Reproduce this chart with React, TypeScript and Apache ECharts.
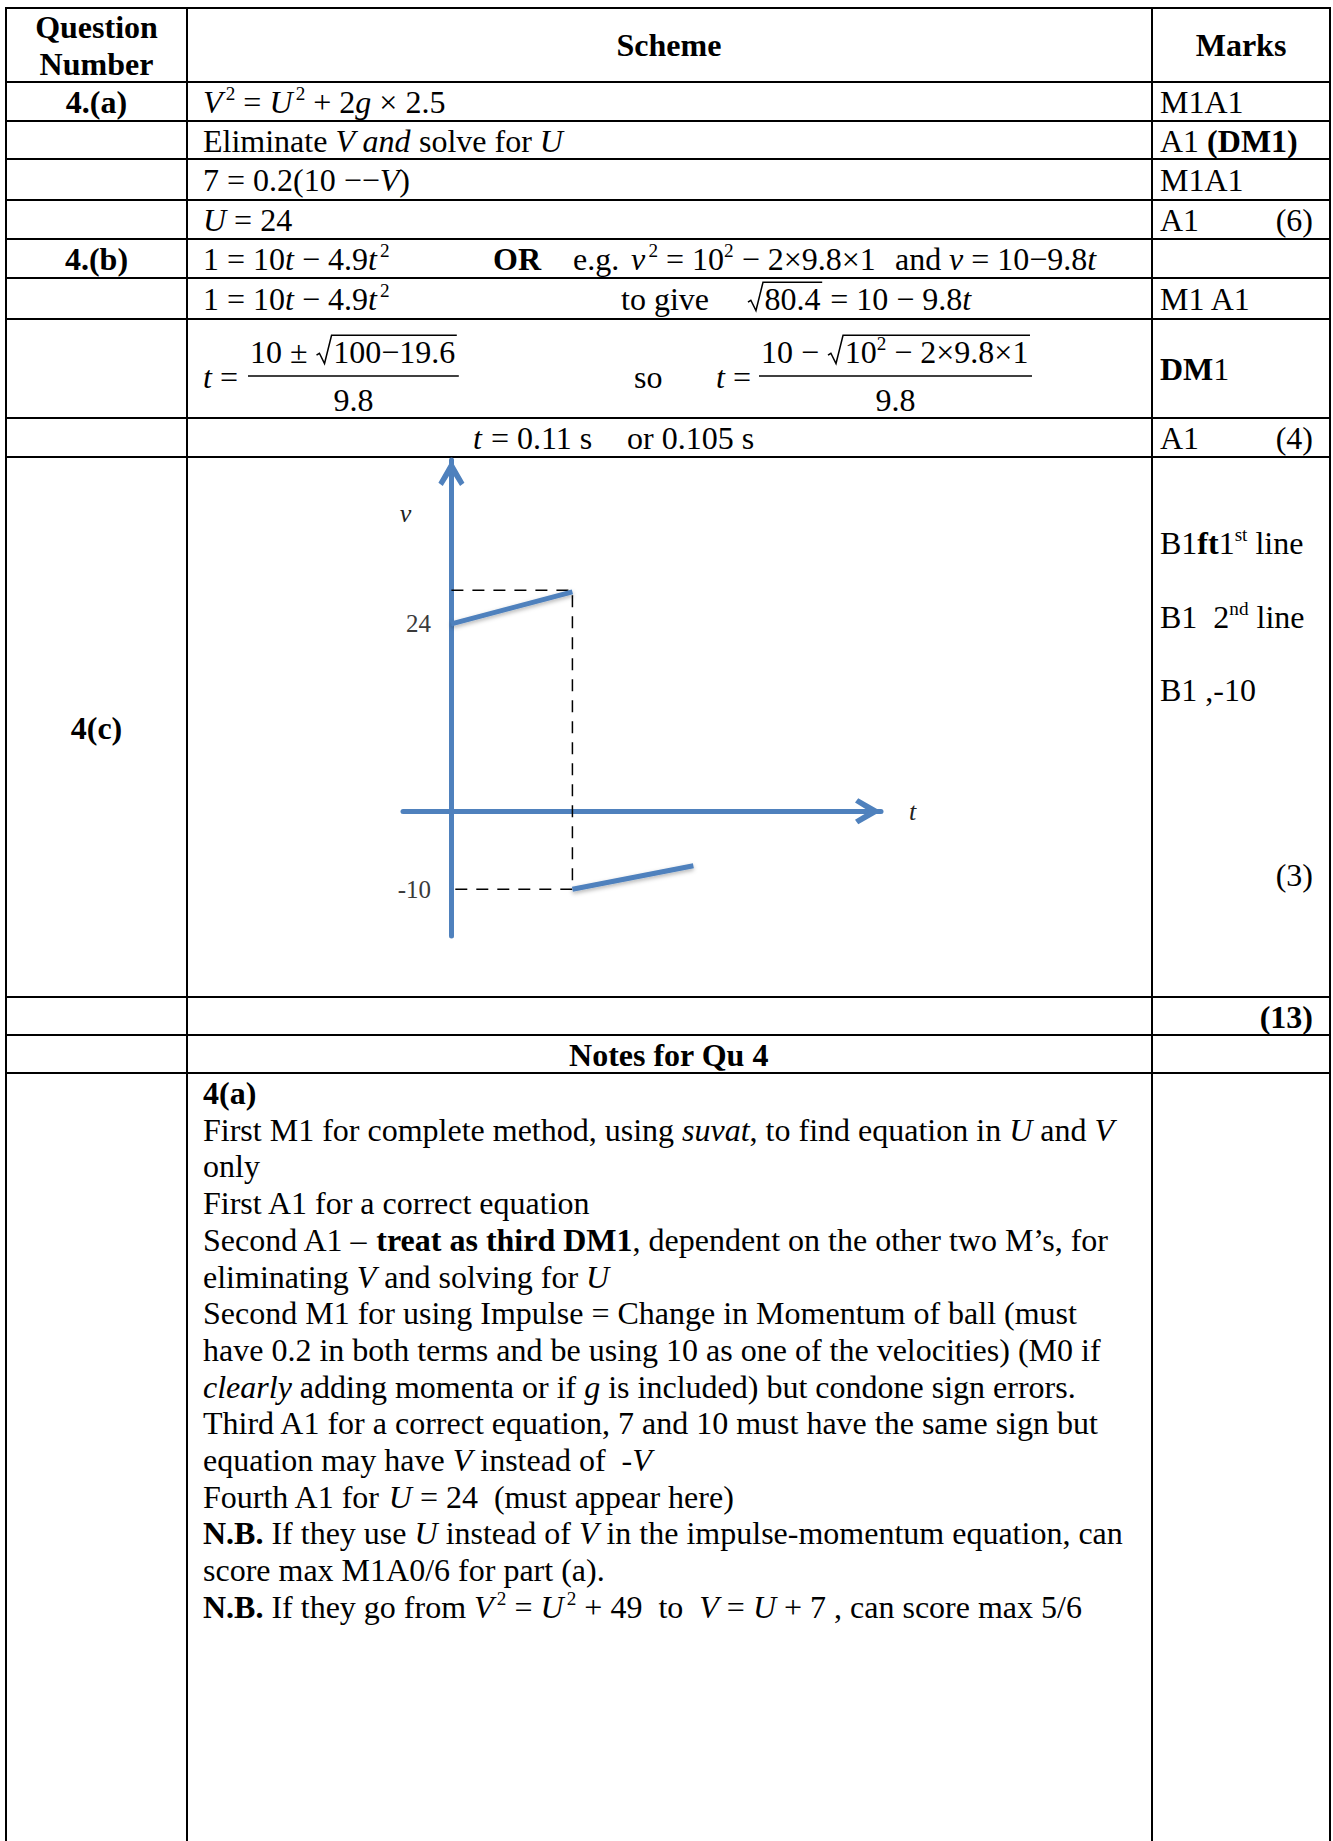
import { useEffect, useRef } from 'react';
import * as echarts from 'echarts';

// ---------- v–t sketch data ----------
const tFirstFlight = [0, 1];
const vFirstFlight = [24, 28.1];
const tSecondFlight = [1, 2];
const vSecondFlight = [-10, -7];
const guideT = [0, 1, 1, 0];
const guideV = [28.3, 28.3, -10, -10];
const vTickLabels = [24, -10];
const tRange = [-0.4, 3.55];
const vRange = [-16, 45];

const BLUE = '#4F81BD';
const FONT = '"Liberation Serif", "Times New Roman", serif';
const FS = 32;

type Run = { t?: string; i?: boolean; b?: boolean; sup?: boolean; sqrt?: Run[] };
const n = (t: string): Run => ({ t });
const it = (t: string): Run => ({ t, i: true });
const bd = (t: string): Run => ({ t, b: true });
const sp = (t: string): Run => ({ t, sup: true });
const sq = (...r: Run[]): Run => ({ sqrt: r });

// ---------- table layout ----------
const hLines = [8, 82, 121, 159, 200, 239, 278, 319, 418, 457, 997, 1035, 1073];
const vLines = [6, 187, 1152, 1330];
const XS = 203; // scheme column text start
const XM = 1160; // marks column text start
const XMR = 1313; // marks column right edge
const C1 = 96.5; // question column centre
const C2 = 669; // scheme column centre
const C3 = 1241; // marks column centre

const eqT = [n('1 = 10'), it('t'), n(' − 4.9'), it('t'), sp('2')];

type Item = { x: number; y: number; a: 'l' | 'c' | 'r'; r: Run[] };
const items: Item[] = [
  { x: C1, y: 27, a: 'c', r: [bd('Question')] },
  { x: C1, y: 64, a: 'c', r: [bd('Number')] },
  { x: C2, y: 45, a: 'c', r: [bd('Scheme')] },
  { x: C3, y: 45, a: 'c', r: [bd('Marks')] },
  // 4(a)
  { x: C1, y: 102, a: 'c', r: [bd('4.(a)')] },
  { x: XS, y: 102, a: 'l', r: [it('V'), sp('2'), n(' = '), it('U'), sp('2'), n(' + 2'), it('g'), n(' × 2.5')] },
  { x: XM, y: 102, a: 'l', r: [n('M1A1')] },
  { x: XS, y: 141, a: 'l', r: [n('Eliminate '), it('V and'), n(' solve for '), it('U')] },
  { x: XM, y: 141, a: 'l', r: [n('A1 '), bd('(DM1)')] },
  { x: XS, y: 180, a: 'l', r: [n('7 = 0.2(10 −−'), it('V'), n(')')] },
  { x: XM, y: 180, a: 'l', r: [n('M1A1')] },
  { x: XS, y: 220, a: 'l', r: [it('U'), n(' = 24')] },
  { x: XM, y: 220, a: 'l', r: [n('A1')] },
  { x: XMR, y: 220, a: 'r', r: [n('(6)')] },
  // 4(b)
  { x: C1, y: 259, a: 'c', r: [bd('4.(b)')] },
  { x: XS, y: 259, a: 'l', r: eqT },
  { x: 493, y: 259, a: 'l', r: [bd('OR')] },
  { x: 573, y: 259, a: 'l', r: [n('e.g.')] },
  { x: 631, y: 259, a: 'l', r: [it('v'), sp('2'), n(' = 10'), sp('2'), n(' − 2×9.8×1')] },
  { x: 895, y: 259, a: 'l', r: [n('and')] },
  { x: 949, y: 259, a: 'l', r: [it('v'), n(' = 10−9.8'), it('t')] },
  { x: XS, y: 299, a: 'l', r: eqT },
  { x: 621, y: 299, a: 'l', r: [n('to give')] },
  { x: 747, y: 299, a: 'l', r: [sq(n('80.4')), n(' = 10 − 9.8'), it('t')] },
  { x: XM, y: 299, a: 'l', r: [n('M1 A1')] },
  { x: XS, y: 377, a: 'l', r: [it('t'), n(' =')] },
  { x: 634, y: 377, a: 'l', r: [n('so')] },
  { x: 716, y: 377, a: 'l', r: [it('t'), n(' =')] },
  { x: XM, y: 369, a: 'l', r: [bd('DM'), n('1')] },
  { x: 473, y: 438, a: 'l', r: [it('t')] },
  { x: 491, y: 438, a: 'l', r: [n('= 0.11 s')] },
  { x: 627, y: 438, a: 'l', r: [n('or 0.105 s')] },
  { x: XM, y: 438, a: 'l', r: [n('A1')] },
  { x: XMR, y: 438, a: 'r', r: [n('(4)')] },
  // 4(c)
  { x: C1, y: 728, a: 'c', r: [bd('4(c)')] },
  { x: XM, y: 543, a: 'l', r: [n('B1'), bd('ft'), n('1'), sp('st'), n(' line')] },
  { x: XM, y: 617, a: 'l', r: [n('B1  2'), sp('nd'), n(' line')] },
  { x: XM, y: 690, a: 'l', r: [n('B1 ,-10')] },
  { x: XMR, y: 875, a: 'r', r: [n('(3)')] },
  { x: XMR, y: 1017, a: 'r', r: [bd('(13)')] },
  { x: C2, y: 1055, a: 'c', r: [bd('Notes for Qu 4')] },
];

const fractions = [
  { left: 250, num: [n('10 ± '), sq(n('100−19.6'))], den: [n('9.8')] },
  { left: 761, num: [n('10 − '), sq(n('10'), sp('2'), n(' − 2×9.8×1'))], den: [n('9.8')] },
];
const FR_NUM = 352;
const FR_BAR = 376;
const FR_DEN = 400;

const notes: Run[][] = [
  [bd('4(a)')],
  [n('First M1 for complete method, using '), it('suvat'), n(', to find equation in '), it('U'), n(' and '), it('V')],
  [n('only')],
  [n('First A1 for a correct equation')],
  [n('Second A1 – '), bd('treat as third DM1'), n(', dependent on the other two M’s, for')],
  [n('eliminating '), it('V'), n(' and solving for '), it('U')],
  [n('Second M1 for using Impulse = Change in Momentum of ball (must')],
  [n('have 0.2 in both terms and be using 10 as one of the velocities) (M0 if')],
  [it('clearly'), n(' adding momenta or if '), it('g'), n(' is included) but condone sign errors.')],
  [n('Third A1 for a correct equation, 7 and 10 must have the same sign but')],
  [n('equation may have '), it('V'), n(' instead of  -'), it('V')],
  [n('Fourth A1 for '), it('U'), n(' = 24  (must appear here)')],
  [bd('N.B.'), n(' If they use '), it('U'), n(' instead of '), it('V'), n(' in the impulse-momentum equation, can')],
  [n('score max M1A0/6 for part (a).')],
  [bd('N.B.'), n(' If they go from '), it('V'), sp('2'), n(' = '), it('U'), sp('2'), n(' + 49  to  '), it('V'), n(' = '), it('U'), n(' + 7 , can score max 5/6')],
];
const NOTES_Y0 = 1093;
const NOTES_DY = 36.7;

let ctx: CanvasRenderingContext2D | null = null;
function fontOf(i?: boolean, b?: boolean, size = FS) {
  return `${i ? 'italic ' : ''}${b ? 'bold ' : ''}${size}px ${FONT}`;
}
function tw(t: string, i?: boolean, b?: boolean, size = FS) {
  if (!ctx) ctx = document.createElement('canvas').getContext('2d');
  ctx!.font = fontOf(i, b, size);
  return ctx!.measureText(t).width;
}
// italic correction before a superscript that follows an italic letter
function supGap(prev: Run | undefined, r: Run, size: number) {
  return r.sup && prev && prev.i && !prev.sup ? size * 0.1 : 0;
}
function runsWidth(runs: Run[], size = FS): number {
  let w = 0;
  runs.forEach((r, k) => {
    if (r.sqrt) w += size * 0.55 + runsWidth(r.sqrt, size) + size * 0.05;
    else w += supGap(runs[k - 1], r, size) + tw(r.t!, r.i, r.b, r.sup ? size * 0.6 : size);
  });
  return w;
}
function drawPlain(text: string, x: number, y: number, i: boolean | undefined, b: boolean | undefined, size: number, out: any[]) {
  const re = /\S+(?: \S+)*/g;
  let m: RegExpExecArray | null;
  while ((m = re.exec(text))) {
    const px = x + tw(text.slice(0, m.index), i, b, size);
    out.push({
      type: 'text',
      x: px,
      y,
      style: {
        text: m[0],
        fontFamily: FONT,
        fontSize: size,
        fontStyle: i ? 'italic' : 'normal',
        fontWeight: b ? 'bold' : 'normal',
        fill: '#000',
        align: 'left',
        verticalAlign: 'middle',
      },
    });
  }
  return tw(text, i, b, size);
}
function drawRuns(runs: Run[], x: number, y: number, out: any[], size = FS): number {
  let cx = x;
  runs.forEach((r, k) => {
    if (r.sqrt) {
      const top = y - 0.52 * size;
      const base = y + 0.36 * size;
      const innerW = runsWidth(r.sqrt, size);
      const x0 = cx + size * 0.03;
      const xs = cx + size * 0.55;
      out.push({
        type: 'polyline',
        shape: {
          points: [
            [x0, y + 0.1 * size],
            [x0 + 0.09 * size, y + 0.04 * size],
            [x0 + 0.25 * size, base],
            [x0 + 0.47 * size, top],
            [xs + innerW + 0.05 * size, top],
          ],
        },
        style: { stroke: '#000', lineWidth: 1.5, fill: 'none' },
      });
      cx = drawRuns(r.sqrt, xs, y, out, size) + size * 0.05;
    } else {
      cx += supGap(runs[k - 1], r, size);
      const s = r.sup ? size * 0.6 : size;
      const yy = r.sup ? y - 0.26 * size : y;
      cx += drawPlain(r.t!, cx, yy, r.i, r.b, s, out);
    }
  });
  return cx;
}

function buildGraphics() {
  const out: any[] = [];
  hLines.forEach((y) =>
    out.push({ type: 'line', shape: { x1: vLines[0] - 1, y1: y, x2: vLines[3] + 1, y2: y }, style: { stroke: '#000', lineWidth: 2 } })
  );
  vLines.forEach((x) =>
    out.push({ type: 'line', shape: { x1: x, y1: hLines[0] - 1, x2: x, y2: 1841 }, style: { stroke: '#000', lineWidth: 2 } })
  );
  items.forEach((o) => {
    const w = runsWidth(o.r);
    const x0 = o.a === 'l' ? o.x : o.a === 'c' ? o.x - w / 2 : o.x - w;
    drawRuns(o.r, x0, o.y, out);
  });
  fractions.forEach((f) => {
    const w = runsWidth(f.num);
    drawRuns(f.num, f.left, FR_NUM, out);
    out.push({ type: 'line', shape: { x1: f.left - 2, y1: FR_BAR, x2: f.left + w + 2, y2: FR_BAR }, style: { stroke: '#000', lineWidth: 1.5 } });
    const dw = runsWidth(f.den);
    drawRuns(f.den, f.left + w / 2 - dw / 2, FR_DEN, out);
  });
  notes.forEach((line, k) => drawRuns(line, XS, NOTES_Y0 + NOTES_DY * k, out));
  return out;
}

const chevron = 'path://M12,0 L24,21 L20,24 L12,11 L4,24 L0,21 Z';
// no shadow on the axis lines: an SVG filter on a zero-height box hides the line
const axisLineStyle = { color: BLUE, width: 5 };
const blueLine = { color: BLUE, width: 5, shadowColor: 'rgba(0,0,0,0.3)', shadowBlur: 4, shadowOffsetY: 2 };

export default function App() {
  const ref = useRef<HTMLDivElement>(null);
  useEffect(() => {
    document.body.style.margin = '0';
    const chart = echarts.init(ref.current!, undefined, { renderer: 'svg' });
    chart.setOption({
      animation: false,
      backgroundColor: '#fff',
      grid: { left: 403, top: 460, width: 478, height: 476, containLabel: false },
      xAxis: {
        type: 'value',
        min: tRange[0],
        max: tRange[1],
        axisLine: {
          show: true,
          onZero: true,
          symbol: ['none', chevron],
          symbolSize: [28, 26],
          symbolOffset: [0, -13],
          lineStyle: axisLineStyle,
        },
        axisTick: { show: false },
        axisLabel: { show: false },
        splitLine: { show: false },
        name: 't',
        nameLocation: 'end',
        nameGap: 28,
        nameTextStyle: { fontFamily: FONT, fontStyle: 'italic', fontSize: 26, color: '#222', align: 'left', verticalAlign: 'middle' },
      },
      yAxis: {
        type: 'value',
        min: vRange[0],
        max: vRange[1],
        interval: 1,
        axisLine: {
          show: true,
          onZero: true,
          symbol: ['none', chevron],
          symbolSize: [28, 26],
          symbolOffset: [0, -13],
          lineStyle: axisLineStyle,
        },
        axisTick: { show: false },
        splitLine: { show: false },
        axisLabel: {
          show: true,
          margin: -28,
          fontFamily: FONT,
          fontSize: 25,
          color: '#3a3a3a',
          formatter: (v: number) => (vTickLabels.includes(v) ? String(v) : ''),
        },
        name: 'v',
        nameLocation: 'end',
        nameGap: -53,
        nameTextStyle: { fontFamily: FONT, fontStyle: 'italic', fontSize: 26, color: '#222', align: 'right', verticalAlign: 'middle', padding: [0, 40, 0, 0] },
      },
      series: [
        {
          type: 'line',
          name: 'guides',
          data: guideT.map((t, k) => [t, guideV[k]]),
          symbol: 'none',
          lineStyle: { color: '#000', width: 1.5, type: [12, 9] },
          z: 3,
        },
        {
          type: 'line',
          name: 'before bounce',
          data: tFirstFlight.map((t, k) => [t, vFirstFlight[k]]),
          symbol: 'none',
          lineStyle: blueLine,
          z: 4,
        },
        {
          type: 'line',
          name: 'after bounce',
          data: tSecondFlight.map((t, k) => [t, vSecondFlight[k]]),
          symbol: 'none',
          lineStyle: blueLine,
          z: 4,
        },
      ],
      graphic: { elements: buildGraphics() },
    });
    return () => chart.dispose();
  }, []);
  return <div ref={ref} style={{ width: 1333, height: 1841 }} />;
}
